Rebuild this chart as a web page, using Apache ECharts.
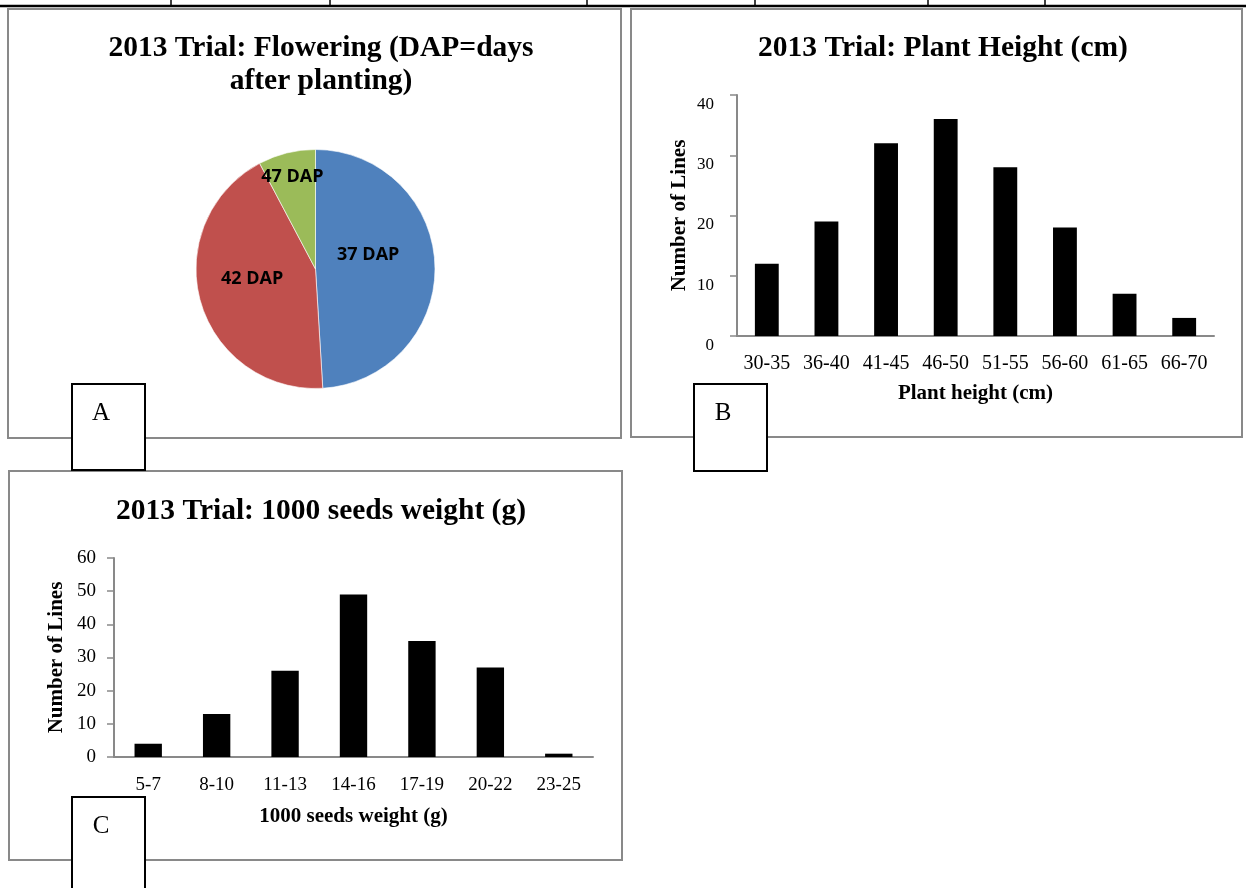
<!DOCTYPE html>
<html>
<head>
<meta charset="utf-8">
<title>2013 Trial</title>
<script src="https://cdn.jsdelivr.net/npm/echarts@6/dist/echarts.min.js"></script>
<style>
  html, body { margin: 0; padding: 0; background: #fff; }
  #chart { width: 1246px; height: 888px; }
</style>
</head>
<body>
<div id="chart"></div>
<script>
  // A: flowering (number of lines per DAP class)
  const dapNames = ['37 DAP', '42 DAP', '47 DAP'];
  const dapLines = [76, 67, 12];

  // B: plant height
  const heightClasses = ['30-35', '36-40', '41-45', '46-50', '51-55', '56-60', '61-65', '66-70'];
  const heightLines = [12, 19, 32, 36, 28, 18, 7, 3];

  // C: 1000 seeds weight
  const seedClasses = ['5-7', '8-10', '11-13', '14-16', '17-19', '20-22', '23-25'];
  const seedLines = [4, 13, 26, 49, 35, 27, 1];

  const pieColors = ['#4F81BD', '#C0504D', '#9BBB59'];
  // small nudges so the slice labels sit where the original put them
  const labelNudge = [[-10, -12], [-3, -7], [-8, -31]];

  const serif = '"Liberation Serif", "Times New Roman", serif';
  const axisGray = '#898989';

  const chart = echarts.init(document.getElementById('chart'));

  const valueAxis = (max, fontSize, margin, vAlign) => ({
    type: 'value',
    min: 0,
    max: max,
    interval: 10,
    name: 'Number of Lines',
    nameLocation: 'middle',
    nameGap: 47,
    nameTextStyle: { fontFamily: serif, fontWeight: 'bold', fontSize: 21, color: '#000' },
    axisLine: { show: true, lineStyle: { color: axisGray, width: 2 } },
    axisTick: { show: true, length: 7, lineStyle: { color: axisGray, width: 1.5 } },
    splitLine: { show: false },
    axisLabel: {
      fontFamily: serif,
      fontSize: fontSize,
      lineHeight: fontSize + 2,
      color: '#000',
      margin: margin,
      verticalAlign: vAlign,
    },
  });

  const categoryAxis = (data, name, fontSize, margin, nameGap) => ({
    type: 'category',
    data: data,
    name: name,
    nameLocation: 'middle',
    nameGap: nameGap,
    nameTextStyle: { fontFamily: serif, fontWeight: 'bold', fontSize: 21, color: '#000' },
    axisLine: { lineStyle: { color: axisGray, width: 2 } },
    axisTick: { show: false },
    axisLabel: { fontFamily: serif, fontSize: fontSize, color: '#000', margin: margin, interval: 0 },
  });

  const panel = (x, y, w, h) => ({
    type: 'rect',
    shape: { x: x, y: y, width: w, height: h },
    style: { fill: 'none', stroke: axisGray, lineWidth: 2 },
    silent: true,
  });

  const tagBox = (x, y, h, letter) => ({
    type: 'group',
    z: 100,
    children: [
      {
        type: 'rect',
        shape: { x: x, y: y, width: 73, height: h },
        style: { fill: '#fff', stroke: '#000', lineWidth: 2 },
      },
      {
        type: 'text',
        x: x + 29,
        y: y + 29,
        style: {
          text: letter,
          font: '25px ' + serif,
          fill: '#000',
          align: 'center',
          verticalAlign: 'middle',
        },
      },
    ],
  });

  // table rule left over from the page above
  const tableCols = [171, 330, 587, 755, 928, 1045];
  const tableBits = tableCols.map((x) => ({
    type: 'line',
    shape: { x1: x, y1: 0, x2: x, y2: 6 },
    style: { stroke: '#000', lineWidth: 1.5 },
  }));

  const titleStyle = { fontFamily: serif, fontWeight: 'bold', fontSize: 29.5, lineHeight: 33, color: '#000' };

  const option = {
    animation: false,
    title: [
      {
        text: '2013 Trial: Flowering (DAP=days\nafter planting)',
        left: 316,
        top: 27,
        textAlign: 'center',
        textStyle: titleStyle,
      },
      {
        text: '2013 Trial: Plant Height (cm)',
        left: 938,
        top: 27,
        textAlign: 'center',
        textStyle: titleStyle,
      },
      {
        text: '2013 Trial: 1000 seeds weight (g)',
        left: 316,
        top: 490,
        textAlign: 'center',
        textStyle: titleStyle,
      },
    ],
    grid: [
      { left: 737, top: 95, width: 477, height: 241 },
      { left: 114, top: 558, width: 479, height: 199 },
    ],
    xAxis: [
      { ...categoryAxis(heightClasses, 'Plant height (cm)', 20, 18, 47), gridIndex: 0 },
      { ...categoryAxis(seedClasses, '1000 seeds weight (g)', 19, 19, 49), gridIndex: 1 },
    ],
    yAxis: [
      { ...valueAxis(40, 17, 23, 'top'), gridIndex: 0 },
      { ...valueAxis(60, 19, 18, 'middle'), gridIndex: 1 },
    ],
    series: [
      {
        type: 'pie',
        center: [315.5, 269],
        radius: 119.5,
        startAngle: 90,
        clockwise: true,
        silent: true,
        data: dapNames.map((n, i) => ({
          name: n,
          value: dapLines[i],
          itemStyle: { color: pieColors[i] },
        })),
        itemStyle: { borderColor: '#fff', borderWidth: 0.6 },
        label: {
          show: true,
          position: 'inside',
          formatter: '{b}',
          fontFamily: '"Open Sans", "Noto Sans", sans-serif',
          fontWeight: 'bold',
          fontSize: 18,
          color: '#000',
        },
        labelLine: { show: false },
        labelLayout: (params) => ({
          dx: labelNudge[params.dataIndex][0],
          dy: labelNudge[params.dataIndex][1],
        }),
      },
      {
        type: 'bar',
        xAxisIndex: 0,
        yAxisIndex: 0,
        data: heightLines,
        barWidth: '40%',
        itemStyle: { color: '#000' },
      },
      {
        type: 'bar',
        xAxisIndex: 1,
        yAxisIndex: 1,
        data: seedLines,
        barWidth: '40%',
        itemStyle: { color: '#000' },
      },
    ],
    graphic: [
      {
        type: 'line',
        shape: { x1: 0, y1: 6, x2: 1246, y2: 6 },
        style: { stroke: '#000', lineWidth: 2.5 },
      },
      ...tableBits,
      panel(8, 9, 613, 429),
      panel(631, 9, 611, 428),
      panel(9, 471, 613, 389),
      tagBox(72, 384, 86, 'A'),
      tagBox(694, 384, 87, 'B'),
      tagBox(72, 797, 100, 'C'),
    ],
  };

  chart.setOption(option);

  window.addEventListener('resize', () => chart.resize());
</script>
</body>
</html>
